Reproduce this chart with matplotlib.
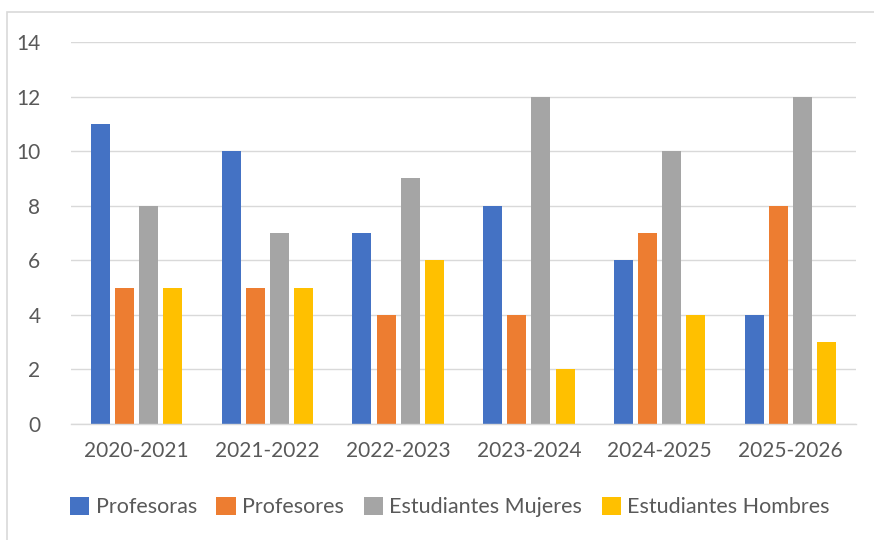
import numpy as np
import matplotlib.pyplot as plt
from matplotlib.patches import Rectangle

categories = ['2020-2021', '2021-2022', '2022-2023', '2023-2024', '2024-2025', '2025-2026']
profesoras = [11, 10, 7, 8, 6, 4]
profesores = [5, 5, 4, 4, 7, 8]
est_mujeres = [8, 7, 9, 12, 10, 12]
est_hombres = [5, 5, 6, 2, 4, 3]
series_names = ['Profesoras', 'Profesores', 'Estudiantes Mujeres', 'Estudiantes Hombres']
colors = ['#4472C4', '#ED7D31', '#A5A5A5', '#FFC000']

plt.rcParams['font.family'] = ['Lato', 'DejaVu Sans']
text_col = '#595959'

fig = plt.figure(figsize=(8.74, 5.4), dpi=100)
W, H = 874, 540
ax = fig.add_axes([71 / W, 1 - 424 / H, (856 - 71) / W, (424 - 42) / H])

x = np.arange(len(categories))
step = 0.184
width = 0.145
data = [profesoras, profesores, est_mujeres, est_hombres]
for i, (vals, name, c) in enumerate(zip(data, series_names, colors)):
    ax.bar(x + (i - 1.5) * step, vals, width, color=c, label=name, zorder=3)

ax.set_xlim(-0.5, len(categories) - 0.5)
ax.set_ylim(0, 14)
ax.set_yticks(range(0, 15, 2))
ax.set_xticks(x)
ax.set_xticklabels(categories)
ax.grid(axis='y', color='#D9D9D9', linewidth=1, zorder=0)
for s in ['top', 'right', 'left']:
    ax.spines[s].set_visible(False)
ax.spines['bottom'].set_color('#D9D9D9')
ax.spines['bottom'].set_linewidth(1)
ax.spines['bottom'].set_zorder(4)
ax.tick_params(length=0, labelsize=15, colors=text_col)
ax.tick_params(axis='x', pad=12)
ax.tick_params(axis='y', pad=22)

leg = ax.legend(loc='center', bbox_to_anchor=((450 - 71) / (856 - 71), (424 - 507) / (424 - 42)),
                ncol=4, frameon=False, fontsize=15.5, handlelength=0.9, handleheight=0.9,
                handletextpad=0.3, columnspacing=0.9, labelcolor=text_col)

# chart border (only left and top edges visible in the crop)
fig.patches.append(Rectangle((7 / W, -0.05), 1.1, 1 - 12 / H + 0.05, transform=fig.transFigure,
                             fill=False, edgecolor='#D9D9D9', linewidth=1.2))

fig.savefig('out.png', dpi=100)
